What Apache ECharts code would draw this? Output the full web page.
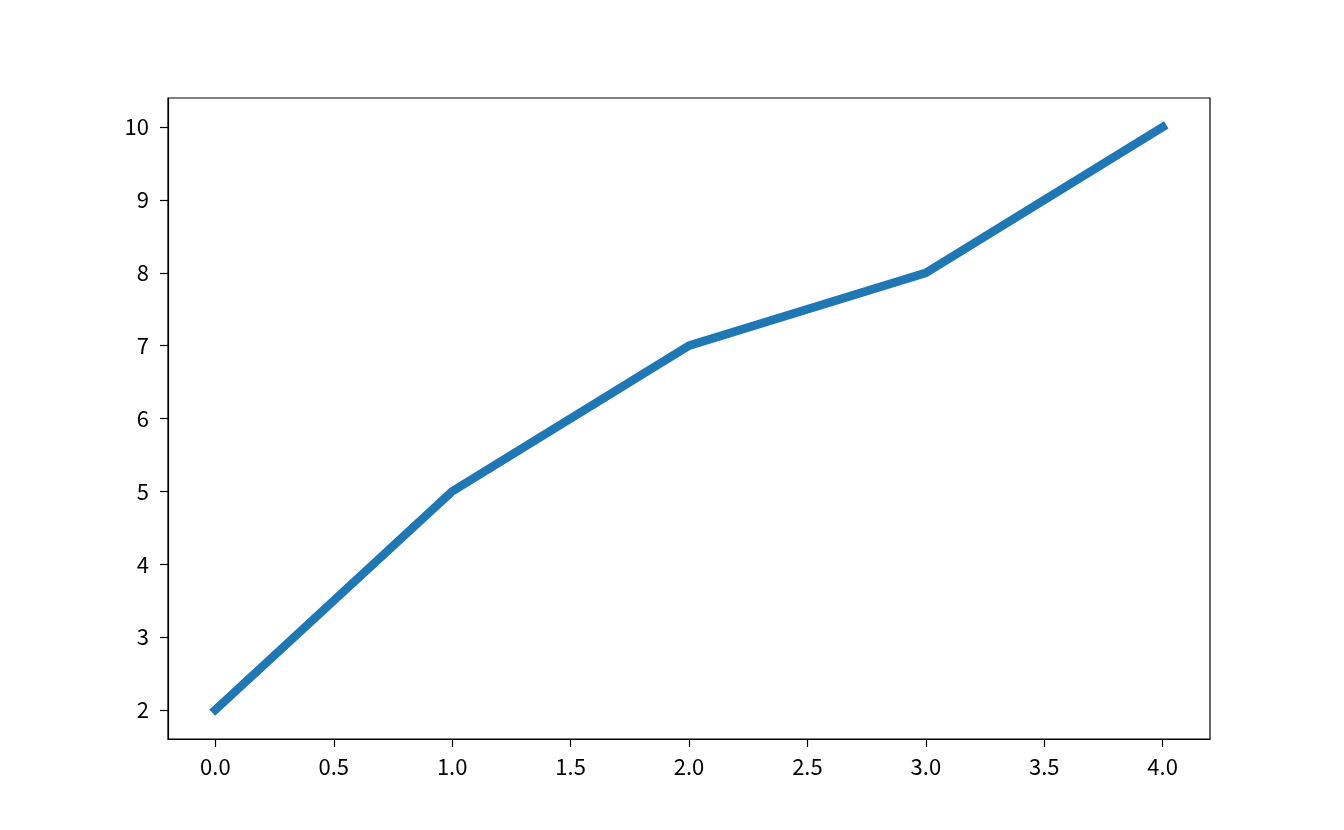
<!DOCTYPE html>
<html>
<head>
<meta charset="utf-8">
<script src="https://cdn.jsdelivr.net/npm/echarts@6/dist/echarts.min.js"></script>
<style>html,body{margin:0;padding:0;background:#fff}#c{width:1344px;height:830px}</style>
</head>
<body>
<div id="c"></div>
<script>
const xValues = [0, 1, 2, 3, 4];
const yValues = [2, 5, 7, 8, 10];
const xTicks = [0, 0.5, 1, 1.5, 2, 2.5, 3, 3.5, 4];
const yTicks = [2, 3, 4, 5, 6, 7, 8, 9, 10];

const chart = echarts.init(document.getElementById('c'), null, {renderer: 'canvas'});
const font = '"Noto Sans CJK SC", "DejaVu Sans", sans-serif';
chart.setOption({
  animation: false,
  backgroundColor: '#fff',
  grid: {left: 168, right: 134, top: 98, bottom: 91, show: true, borderColor: '#000', borderWidth: 1.2, backgroundColor: 'transparent'},
  xAxis: {
    type: 'value', min: -0.2, max: 4.2,
    splitLine: {show: false},
    axisLine: {show: true, onZero: false, lineStyle: {color: '#000', width: 1.2}},
    axisTick: {show: true, length: 8, customValues: xTicks, lineStyle: {color: '#000', width: 1.2}},
    axisLabel: {customValues: xTicks, margin: 17, color: '#000', fontFamily: font, fontSize: 22,
      formatter: v => v.toFixed(1)}
  },
  yAxis: {
    type: 'value', min: 1.6, max: 10.4,
    splitLine: {show: false},
    axisLine: {show: true, onZero: false, lineStyle: {color: '#000', width: 1.2}},
    axisTick: {show: true, length: 8, customValues: yTicks, lineStyle: {color: '#000', width: 1.2}},
    axisLabel: {customValues: yTicks, margin: 19, color: '#000', fontFamily: font, fontSize: 22,
      formatter: v => String(v)}
  },
  series: [{
    type: 'line',
    data: xValues.map((x, i) => [x, yValues[i]]),
    showSymbol: false,
    symbol: 'none',
    lineStyle: {color: '#1f77b4', width: 8.5, cap: 'square', join: 'round'}
  }]
});
</script>
</body>
</html>
